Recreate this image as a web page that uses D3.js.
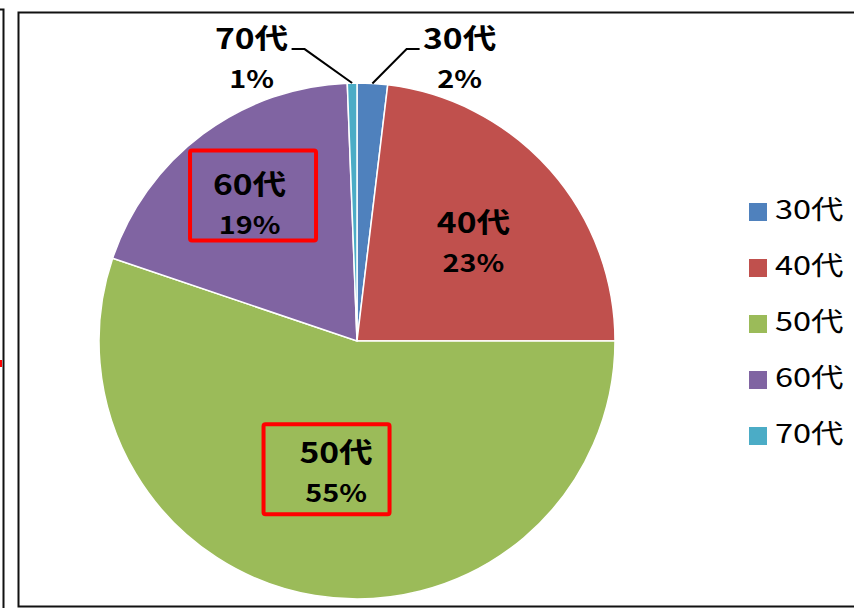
<!DOCTYPE html>
<html>
<head>
<meta charset="utf-8">
<script src="https://cdn.jsdelivr.net/npm/d3@7"></script>
<style>
  body { margin: 0; background: #fff; }
  svg { display: block; }
  text { font-family: "Noto Sans CJK JP", "Noto Sans", sans-serif; fill: #000; }
</style>
</head>
<body>
<svg id="chart" width="854" height="608"></svg>
<script>
// age-group share pie
const categories = ["30代", "40代", "50代", "60代", "70代"];
const shares = [1.9, 23.1, 55.2, 19.2, 0.6];
const pctLabels = ["2%", "23%", "55%", "19%", "1%"];
const colors = ["#4F81BD", "#C0504D", "#9BBB59", "#8064A2", "#4BACC6"];
const highlighted = ["50代", "60代"];

(function () {
  const svg = d3.select("#chart");
  const cx = 357, cy = 341, R = 258;

  // frames
  svg.append("path")
    .attr("d", "M0,9.5 H3.5 V608")
    .attr("fill", "none").attr("stroke", "#111").attr("stroke-width", 2);
  svg.append("rect")
    .attr("x", 0).attr("y", 360).attr("width", 2).attr("height", 7)
    .attr("fill", "#f00");
  svg.append("rect")
    .attr("x", 18.5).attr("y", 12.5).attr("width", 860).attr("height", 594)
    .attr("fill", "none").attr("stroke", "#111").attr("stroke-width", 2);

  const data = categories.map((c, i) => ({ key: c, v: shares[i], pct: pctLabels[i], color: colors[i] }));

  const pie = d3.pie().sort(null).value(d => d.v);
  const arcs = pie(data);
  const arc = d3.arc().innerRadius(0).outerRadius(R);

  const g = svg.append("g").attr("transform", `translate(${cx},${cy})`);

  g.selectAll("path.slice")
    .data(arcs)
    .join("path")
    .attr("class", "slice")
    .attr("d", arc)
    .attr("fill", d => d.data.color)
    .attr("stroke", "#fff")
    .attr("stroke-width", 1.5);

  // label placement: polar position of the label block (deg from 12 o'clock, distance)
  const place = {
    "30代": { a: 20, d: 300, outside: true, side: 1 },
    "40代": { a: 50, d: 152 },
    "50代": { a: 189, d: 134, box: [-9.5, -4] },
    "60代": { a: 321.6, d: 173, box: [3.5, -10] },
    "70代": { a: 339.5, d: 301, outside: true, side: -1 }
  };
  const polar = (deg, dist) => {
    const t = deg * Math.PI / 180;
    return [Math.sin(t) * dist, -Math.cos(t) * dist];
  };
  const sx = 1.2;

  arcs.forEach(d => {
    const p = place[d.data.key];
    const [bx, by] = polar(p.a, p.d);

    if (highlighted.includes(d.data.key)) {
      g.append("rect")
        .attr("x", bx + p.box[0] - 63).attr("y", by + p.box[1] - 45)
        .attr("width", 126).attr("height", 90)
        .attr("rx", 2)
        .attr("fill", "none").attr("stroke", "#ff0000").attr("stroke-width", 4);
    }

    if (p.outside) {
      const mid = (d.startAngle + d.endAngle) / 2 * 180 / Math.PI;
      const rim = polar(mid, R);
      const s = p.side;
      const elbow = [bx - s * 53, by - 10];
      const end = [bx - s * 40, by - 10];
      g.append("path")
        .attr("d", d3.line()([rim, elbow, end]))
        .attr("fill", "none").attr("stroke", "#000").attr("stroke-width", 2);
    }

    g.append("text")
      .attr("transform", `translate(${bx},${by - 10}) scale(${sx},1)`)
      .attr("text-anchor", "middle")
      .attr("font-size", 28).attr("font-weight", 700)
      .text(d.data.key);
    g.append("text")
      .attr("transform", `translate(${bx},${by + 29}) scale(${sx},1)`)
      .attr("text-anchor", "middle")
      .attr("font-size", 24).attr("font-weight", 700)
      .text(d.data.pct);
  });

  // legend
  const legend = svg.append("g").attr("transform", "translate(749,203)");
  const y = d3.scalePoint().domain(categories).range([0, 224]);
  const items = legend.selectAll("g.item")
    .data(data)
    .join("g")
    .attr("class", "item")
    .attr("transform", d => `translate(0,${y(d.key)})`);
  items.append("rect")
    .attr("width", 18).attr("height", 18)
    .attr("fill", d => d.color);
  items.append("text")
    .attr("transform", `translate(26,16) scale(1.25,1)`)
    .attr("font-size", 26)
    .attr("fill", "#111")
    .text(d => d.key);
})();
</script>
</body>
</html>
